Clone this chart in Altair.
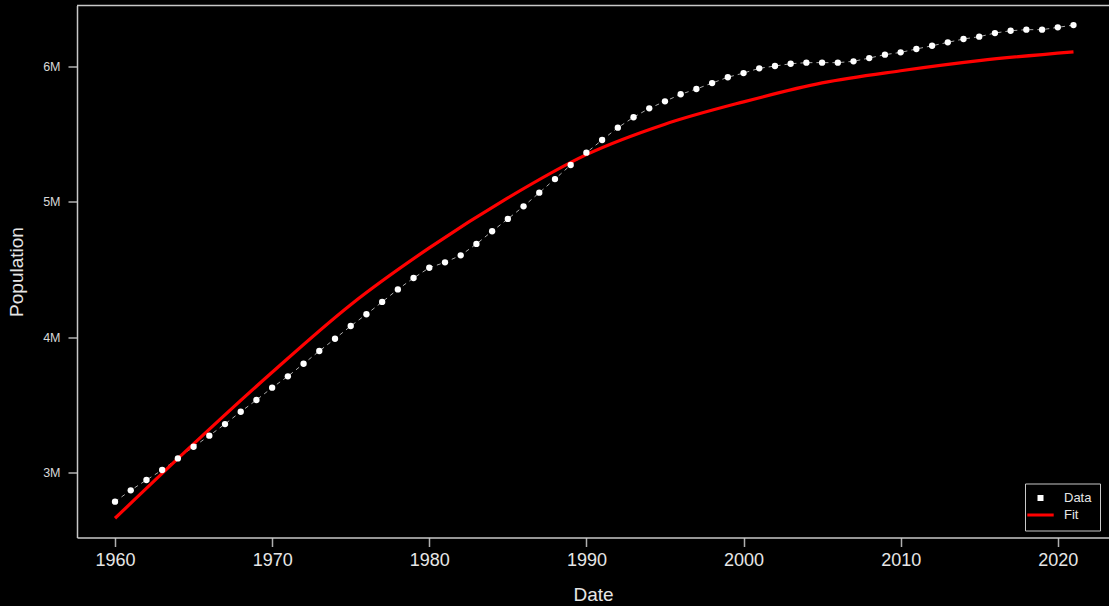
import altair as alt
import pandas as pd

# ---------------- data ----------------
years = list(range(1960, 2022))
population_m = [
    2.783, 2.867, 2.943, 3.017, 3.103, 3.189, 3.271, 3.357, 3.448, 3.535,
    3.626, 3.710, 3.803, 3.897, 3.988, 4.082, 4.169, 4.260, 4.353, 4.437,
    4.513, 4.553, 4.605, 4.689, 4.783, 4.874, 4.967, 5.068, 5.169, 5.273,
    5.364, 5.458, 5.549, 5.626, 5.692, 5.744, 5.796, 5.835, 5.879, 5.922,
    5.953, 5.988, 6.005, 6.022, 6.030, 6.030, 6.030, 6.040, 6.064, 6.089,
    6.106, 6.131, 6.155, 6.180, 6.205, 6.222, 6.249, 6.266, 6.274, 6.274,
    6.291, 6.308,
]
fit_years = [1960, 1965, 1970, 1975, 1980, 1985, 1990, 1995, 2000, 2005, 2010, 2015, 2021]
fit_m = [2.660, 3.210, 3.740, 4.240, 4.660, 5.030, 5.350, 5.575, 5.740, 5.880, 5.970, 6.045, 6.110]
x_ticks = [1960, 1970, 1980, 1990, 2000, 2010, 2020]
y_ticks_m = [3, 4, 5, 6]
series_names = ["Data", "Fit"]
series_colors = ["#ffffff", "#ff0000"]

data_df = pd.DataFrame({"Year": years,
                        "Population": [v * 1e6 for v in population_m],
                        "Series": "Data"})
fit_df = pd.DataFrame({"Year": fit_years,
                       "Population": [v * 1e6 for v in fit_m],
                       "Series": "Fit"})
frame_df = pd.DataFrame({"k": [0]})

# ---------------- styling ----------------
FONT = "Liberation Sans, Arial, sans-serif"
W, H = 1032, 532
FRAME = "#c8c8c8"

x_scale = alt.Scale(domain=[1957.58, 2023.26], nice=False, zero=False)
y_scale = alt.Scale(domain=[2.5178e6, 6.4527e6], nice=False, zero=False)
color_scale = alt.Scale(domain=series_names, range=series_colors)

x_axis = alt.Axis(values=x_ticks, format="d", title="Date", grid=False,
                  domainColor=FRAME, domainWidth=1.5, tickColor="#b0b0b0",
                  tickSize=9, tickWidth=1.5, labelColor="#e6e6e6",
                  labelFontSize=18, labelFont=FONT, labelPadding=5,
                  labelFlush=False, titleColor="#e6e6e6", titleFontSize=19,
                  titleFont=FONT, titleFontWeight="normal", titlePadding=16)
y_axis = alt.Axis(values=[v * 1e6 for v in y_ticks_m], format="~s",
                  title="Population", grid=False, domainColor=FRAME,
                  domainWidth=1.5, tickColor="#b0b0b0", tickSize=9,
                  tickWidth=1.5, labelColor="#d8d8d8", labelFontSize=12.5,
                  labelFont=FONT, labelPadding=8, labelFlush=False,
                  titleColor="#e6e6e6", titleFontSize=19, titleFont=FONT,
                  titleFontWeight="normal", titlePadding=16)

X = alt.X("Year:Q", scale=x_scale, axis=x_axis)
Y = alt.Y("Population:Q", scale=y_scale, axis=y_axis)

legend = alt.Legend(
    title=None, orient="none", legendX=948, legendY=478, direction="vertical",
    symbolType={"expr": "datum.value == 'Fit' ? 'M-4.4,0H4.4' : 'square'"},
    symbolSize=36,
    symbolStrokeWidth={"expr": "datum.value == 'Fit' ? 3 : 0"},
    symbolStrokeColor={"expr": "datum.value == 'Fit' ? '#ff0000' : '#ffffff'"},
    symbolOffset=1, labelOffset=17, rowPadding=3, padding=8,
    labelColor="#e6e6e6", labelFontSize=13, labelFont=FONT,
    strokeColor=FRAME, fillColor="#000000",
)
COLOR = alt.Color("Series:N", scale=color_scale, legend=legend)

dashed = alt.Chart(data_df).mark_line(
    color="#a8a8a8", strokeWidth=1, strokeDash=[4, 4]
).encode(x=X, y=Y)

fit_line = alt.Chart(fit_df).mark_line(
    strokeWidth=3.2, interpolate="monotone"
).encode(x=X, y=Y, color=COLOR)

points = alt.Chart(data_df).mark_point(
    filled=True, size=40, opacity=1
).encode(x=X, y=Y, color=COLOR)

top_border = alt.Chart(frame_df).mark_rule(color=FRAME, strokeWidth=1.5).encode(
    x=alt.value(0), x2=alt.value(W), y=alt.value(0)
)

chart = alt.layer(dashed, fit_line, points, top_border).properties(
    width=W, height=H,
    padding={"left": 77, "top": 5.5, "right": 0, "bottom": 68.5},
    autosize=alt.AutoSizeParams(type="none"),
    background="#000000",
).configure_view(strokeWidth=0)

# page template: black page without margin (same CDN addresses as the default)
try:
    import jinja2
    TEMPLATE = jinja2.Template("""<!DOCTYPE html>
<html>
<head>
  <style>
    html, body { margin: 0; padding: 0; background: #000000; overflow: hidden; }
    #{{ output_div }}.vega-embed { width: 100%; display: flex; }
  </style>
  <script type="text/javascript" src="{{ base_url }}/vega@{{ vega_version }}"></script>
  <script type="text/javascript" src="{{ base_url }}/vega-lite@{{ vegalite_version }}"></script>
  <script type="text/javascript" src="{{ base_url }}/vega-embed@{{ vegaembed_version }}"></script>
</head>
<body>
  <div id="{{ output_div }}"></div>
  <script type="text/javascript">
    (function(vegaEmbed) {
      var spec = {{ spec }};
      var embedOpt = {{ embed_options }};
      vegaEmbed("#{{ output_div }}", spec, embedOpt).catch(function(err) {
        document.getElementById("{{ output_div }}").innerHTML = '<pre style="color:red">' + err + '</pre>';
      });
    })(vegaEmbed);
  </script>
</body>
</html>
""")
    chart.save("out.html", embed_options={"renderer": "svg", "actions": False},
               template=TEMPLATE)
except Exception:
    chart.save("out.html", embed_options={"renderer": "svg", "actions": False})
